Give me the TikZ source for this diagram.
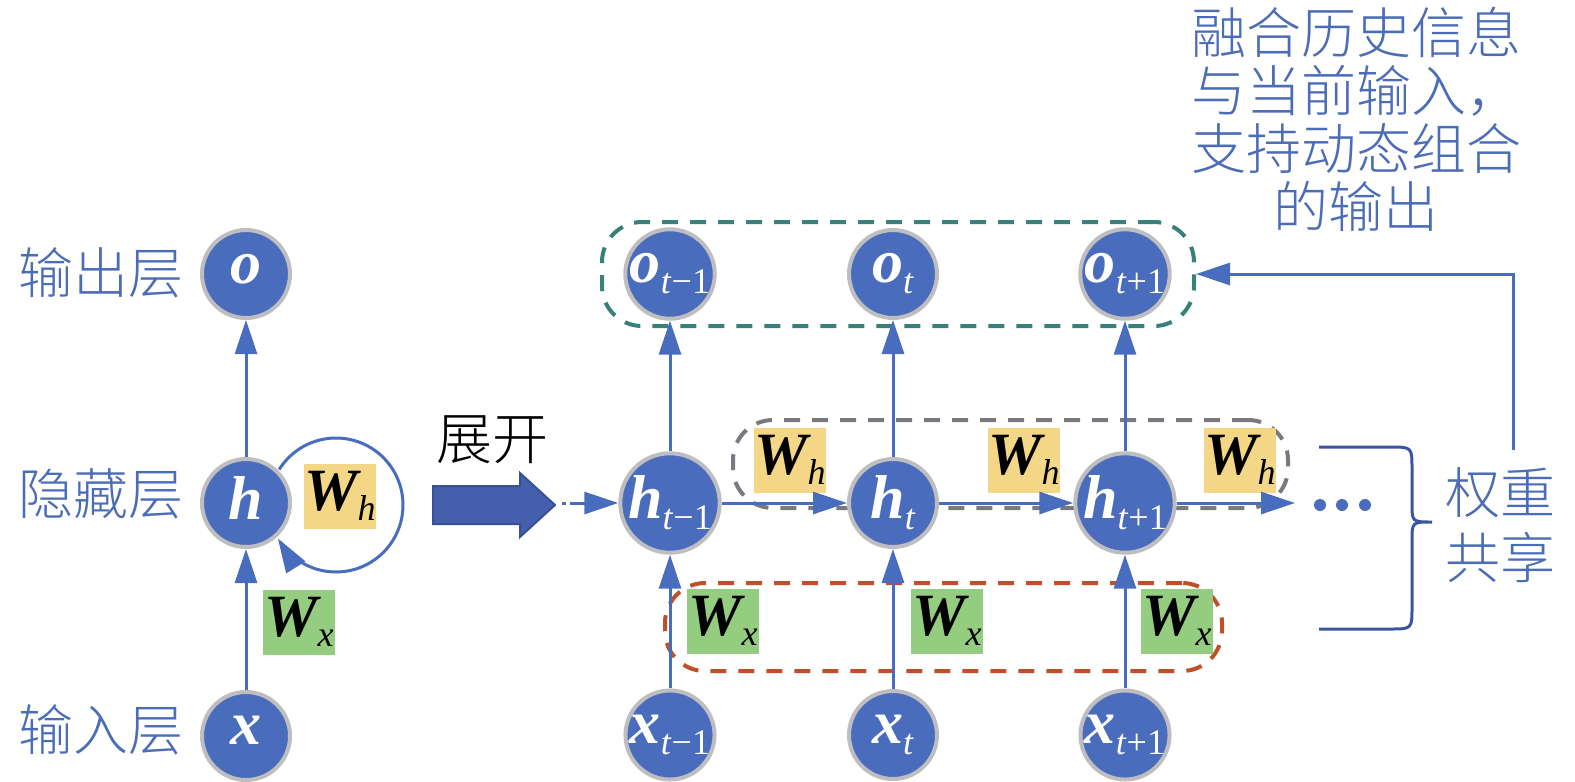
\documentclass[tikz,border=0pt]{standalone}
\usepackage{fontspec}
\setmainfont{Liberation Serif}
\newfontfamily\tnr{Liberation Serif}
\IfFontExistsTF{Noto Sans CJK SC Light}{\newfontfamily\cjk{Noto Sans CJK SC Light}}{\newfontfamily\cjk{Noto Sans CJK SC}}
\usetikzlibrary{arrows.meta,calc}
\definecolor{nodeblue}{RGB}{73,108,188}
\definecolor{nodegray}{RGB}{190,190,192}
\definecolor{lineblue}{RGB}{72,108,190}
\definecolor{textblue}{RGB}{75,108,183}
\definecolor{wyellow}{RGB}{244,214,135}
\definecolor{wgreen}{RGB}{148,204,128}
\definecolor{tealc}{RGB}{56,128,120}
\definecolor{grayc}{RGB}{120,122,128}
\definecolor{orangec}{RGB}{190,80,40}
\definecolor{bigarrow}{RGB}{68,96,172}
\definecolor{bigarrowb}{RGB}{55,80,150}
\definecolor{bracec}{RGB}{58,85,160}
\newcommand{\nlab}[2]{{\tnr\fontsize{31}{31}\selectfont\bfseries\itshape #1}\raisebox{-5.5pt}{\tnr\fontsize{18}{18}\selectfont #2}}
\newcommand{\wlab}[1]{{\tnr\fontsize{30}{30}\selectfont\bfseries\itshape W}\raisebox{-5pt}{\tnr\fontsize{18}{18}\selectfont\itshape #1}}
\begin{document}
\begin{tikzpicture}[x=0.5pt,y=-0.5pt,
  neuron/.style={circle,fill=nodeblue,draw=nodegray,line width=2pt,minimum size=44pt,inner sep=0pt,text=white},
  wbox/.style={minimum width=36pt,minimum height=32.5pt,inner sep=0pt,text=black},
  whbox/.style={wbox,fill=wyellow},
  wxbox/.style={wbox,fill=wgreen},
  conn/.style={draw=lineblue,line width=1.5pt,-{Triangle[length=17pt,width=11pt]}},
  cjklabel/.style={font=\cjk\fontsize{27.5}{27.5}\selectfont,text=textblue,inner sep=0pt},
  groupbox/.style={draw,line width=2pt,dash pattern=on 8pt off 6pt,rounded corners=20pt,inner sep=0pt}]
\useasboundingbox (0,0) rectangle (1575,782);

% dashed group boxes
\node[groupbox,draw=tealc,minimum width=296pt,minimum height=52pt] (teal) at (898,274) {};
\node[groupbox,draw=grayc,minimum width=277.5pt,minimum height=44pt] (grayg) at (1010.5,464) {};
\node[groupbox,draw=orangec,minimum width=278.5pt,minimum height=44pt] (orangeg) at (943.5,627) {};

% left folded network
\node[neuron] (o) at (246,274) {\nlab{o}{}};
\node[neuron] (h) at (246,503) {\nlab{h}{}};
\node[neuron] (x) at (246,736) {\nlab{x}{}};
\node[cjklabel] (lo) at (101,273) {输出层};
\node[cjklabel] (lh) at (101,494) {隐藏层};
\node[cjklabel] (lx) at (101,730) {输入层};
\node[whbox] (whl) at (340,496) {\wlab{h}};
\node[wxbox] (wxl) at (299,622) {\wlab{x}};

\draw[conn] (x) -- (h);
\draw[conn] (h) -- (o);
\draw[conn] plot[domain=-148:150,samples=90,variable=\t] ({336+67*cos(\t)},{505+67*sin(\t)});

% unfold arrow
\node[font=\cjk\fontsize{28}{28}\selectfont,inner sep=0pt] (unf) at (492,440) {展开};
\draw[fill=bigarrow,draw=bigarrowb,line width=1pt] (433,486) -- (520,486) -- (520,473) -- (555,505) -- (520,537) -- (520,524) -- (433,524) -- cycle;

% unrolled network
\node[neuron] (o1) at (670,274) {\nlab{o}{\textit{t}−1}};
\node[neuron] (o2) at (893,274) {\nlab{o}{\textit{t}}};
\node[neuron] (o3) at (1125,274) {\nlab{o}{\textit{t}+1}};
\node[neuron] (h1) at (670,503) {\nlab{h}{\textit{t}−1}};
\node[neuron] (h2) at (893,503) {\nlab{h}{\textit{t}}};
\node[neuron] (h3) at (1125,503) {\nlab{h}{\textit{t}+1}};
\node[neuron] (x1) at (670,735) {\nlab{x}{\textit{t}−1}};
\node[neuron] (x2) at (893,735) {\nlab{x}{\textit{t}}};
\node[neuron] (x3) at (1125,735) {\nlab{x}{\textit{t}+1}};

\node[whbox] (wh1) at (790,460) {\wlab{h}};
\node[whbox] (wh2) at (1024,460) {\wlab{h}};
\node[whbox] (wh3) at (1240,460) {\wlab{h}};
\node[wxbox] (wx1) at (723,621) {\wlab{x}};
\node[wxbox] (wx2) at (947,621) {\wlab{x}};
\node[wxbox] (wx3) at (1177,621) {\wlab{x}};

\coordinate (ind0) at (562,503);
\coordinate (ind1) at (566,503);
\coordinate (in0) at (570,503);
\coordinate (hend) at (1295,503);
\draw[draw=lineblue,line width=1.5pt] (ind0) -- (ind1);
\draw[conn] (in0) -- (h1);
\draw[conn] (h1) -- (h2);
\draw[conn] (h2) -- (h3);
\draw[conn] (h3) -- (hend);
\draw[conn] (x1) -- (h1);
\draw[conn] (x2) -- (h2);
\draw[conn] (x3) -- (h3);
\draw[conn] (h1) -- (o1);
\draw[conn] (h2) -- (o2);
\draw[conn] (h3) -- (o3);

% dots
\fill[nodeblue] (1320,505) circle[radius=3pt];
\fill[nodeblue] (1342,505) circle[radius=3pt];
\fill[nodeblue] (1365,505) circle[radius=3pt];

% brace
\draw[draw=bracec,line width=1.5pt] (1319,447) -- (1390,447) .. controls (1412,447) .. (1412,469) -- (1412,503) .. controls (1412,522) .. (1432,522) .. controls (1412,522) .. (1412,541) -- (1412,607) .. controls (1412,629) .. (1390,629) -- (1319,629);
\node[cjklabel] (ws1) at (1500,493) {权重};
\node[cjklabel] (ws2) at (1500,557) {共享};

% feedback arrow and note
\coordinate (fbs) at (1513,450);
\draw[conn] (fbs) |- (teal.east);
\node[cjklabel,align=center,font=\cjk\fontsize{27.5}{29}\selectfont] (note) at (1356,119) {融合历史信息\\与当前输入，\\支持动态组合\\的输出};
\end{tikzpicture}
\end{document}
